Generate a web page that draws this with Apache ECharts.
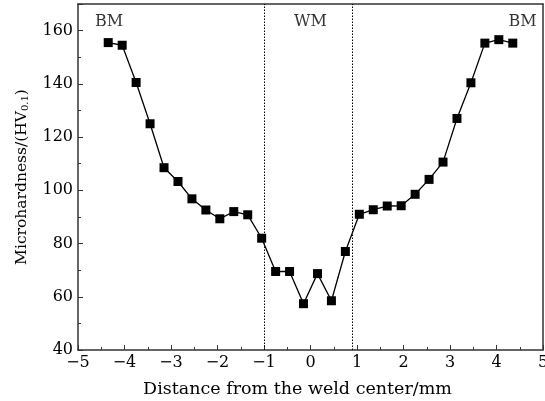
<!DOCTYPE html>
<html>
<head>
<meta charset="utf-8">
<script src="https://cdn.jsdelivr.net/npm/echarts@6/dist/echarts.min.js"></script>
<style>
  html, body { margin: 0; padding: 0; background: #fff; }
  #chart { width: 545px; height: 401px; }
</style>
</head>
<body>
<div id="chart"></div>
<script>
// measured points (distance from weld centre in mm, microhardness HV0.1)
const distance = [-4.35, -4.05, -3.75, -3.45, -3.15, -2.85, -2.55, -2.25, -1.95, -1.65,
  -1.35, -1.05, -0.75, -0.45, -0.15, 0.15, 0.45, 0.75, 1.05, 1.35,
  1.65, 1.95, 2.25, 2.55, 2.85, 3.15, 3.45, 3.75, 4.05, 4.35]
const hardness = [155.5, 154.5, 140.5, 125, 108.5, 103.3, 96.8, 92.6, 89.3, 92,
  90.8, 82, 69.5, 69.5, 57.4, 68.7, 58.5, 77, 91, 92.7,
  94.1, 94.2, 98.5, 104.1, 110.6, 127, 140.4, 155.3, 156.6, 155.3]

// zone boundaries (dotted lines)
const boundaries = [-1, 0.9]

// zone labels
const zoneNames = ['BM', 'WM', 'BM']
const zoneX = [-4.33, 0, 4.56]
const zoneY = [163.2, 163.2, 163.2]

const font = 'DejaVu Serif'
const axisColor = '#333'

const chart = echarts.init(document.getElementById('chart'))

chart.setOption({
  animation: false,
  grid: { left: 78, right: 2, top: 4, bottom: 51, outerBoundsMode: 'none' },
  xAxis: [{
    type: 'value', min: -5, max: 5, interval: 1,
    name: 'Distance from the weld center/mm',
    nameLocation: 'middle', nameGap: 30,
    nameTextStyle: { fontFamily: font, fontSize: 17.5, color: '#000', padding: [0, 26, 0, 0] },
    axisLine: { show: true, onZero: false, lineStyle: { color: axisColor, width: 1.5 } },
    axisTick: { inside: true, length: 5, lineStyle: { color: axisColor } },
    minorTick: { show: true, splitNumber: 2, length: 3, lineStyle: { color: axisColor } },
    axisLabel: {
      fontFamily: font, fontSize: 16, color: '#000', margin: 5,
      formatter: v => (v < 0 ? '\u2212' + Math.abs(v) : String(v))
    },
    splitLine: { show: false }
  }, {
    type: 'value', min: -5, max: 5, position: 'top',
    axisLine: { show: true, onZero: false, lineStyle: { color: axisColor, width: 1.5 } },
    axisTick: { show: false }, axisLabel: { show: false }, splitLine: { show: false }
  }],
  yAxis: [{
    type: 'value', min: 40, max: 170, interval: 20,
    name: 'Microhardness/(HV{sub|0.1})',
    nameLocation: 'middle', nameGap: 48, nameRotate: 90,
    nameTextStyle: {
      fontFamily: font, fontSize: 15.5, color: '#000',
      rich: { sub: { fontFamily: font, fontSize: 10, color: '#000', verticalAlign: 'bottom', padding: [6, 0, 0, 0] } }
    },
    axisLine: { show: true, onZero: false, lineStyle: { color: axisColor, width: 1.5 } },
    axisTick: { inside: true, length: 5, lineStyle: { color: axisColor } },
    minorTick: { show: true, splitNumber: 2, length: 3, lineStyle: { color: axisColor } },
    axisLabel: { fontFamily: font, fontSize: 16, color: '#000', margin: 5, showMaxLabel: false },
    splitLine: { show: false }
  }, {
    type: 'value', min: 40, max: 170, position: 'right',
    axisLine: { show: true, onZero: false, lineStyle: { color: axisColor, width: 1.5 } },
    axisTick: { show: false }, axisLabel: { show: false }, splitLine: { show: false }
  }],
  series: [{
    type: 'line',
    data: distance.map((d, i) => [d, hardness[i]]),
    symbol: 'rect', symbolSize: 9,
    lineStyle: { color: '#000', width: 1.3 },
    itemStyle: { color: '#000' },
    markLine: {
      silent: true, symbol: 'none',
      label: { show: false },
      lineStyle: { color: '#000', type: [1.5, 1.5], width: 1 },
      data: boundaries.map(b => ({ xAxis: b }))
    },
    z: 3
  }, {
    type: 'scatter',
    data: zoneNames.map((n, i) => ({ value: [zoneX[i], zoneY[i]], name: n })),
    symbolSize: 0,
    label: {
      show: true, position: 'inside', formatter: p => p.name,
      fontFamily: font, fontSize: 16, color: '#000'
    },
    silent: true
  }]
})
</script>
</body>
</html>
